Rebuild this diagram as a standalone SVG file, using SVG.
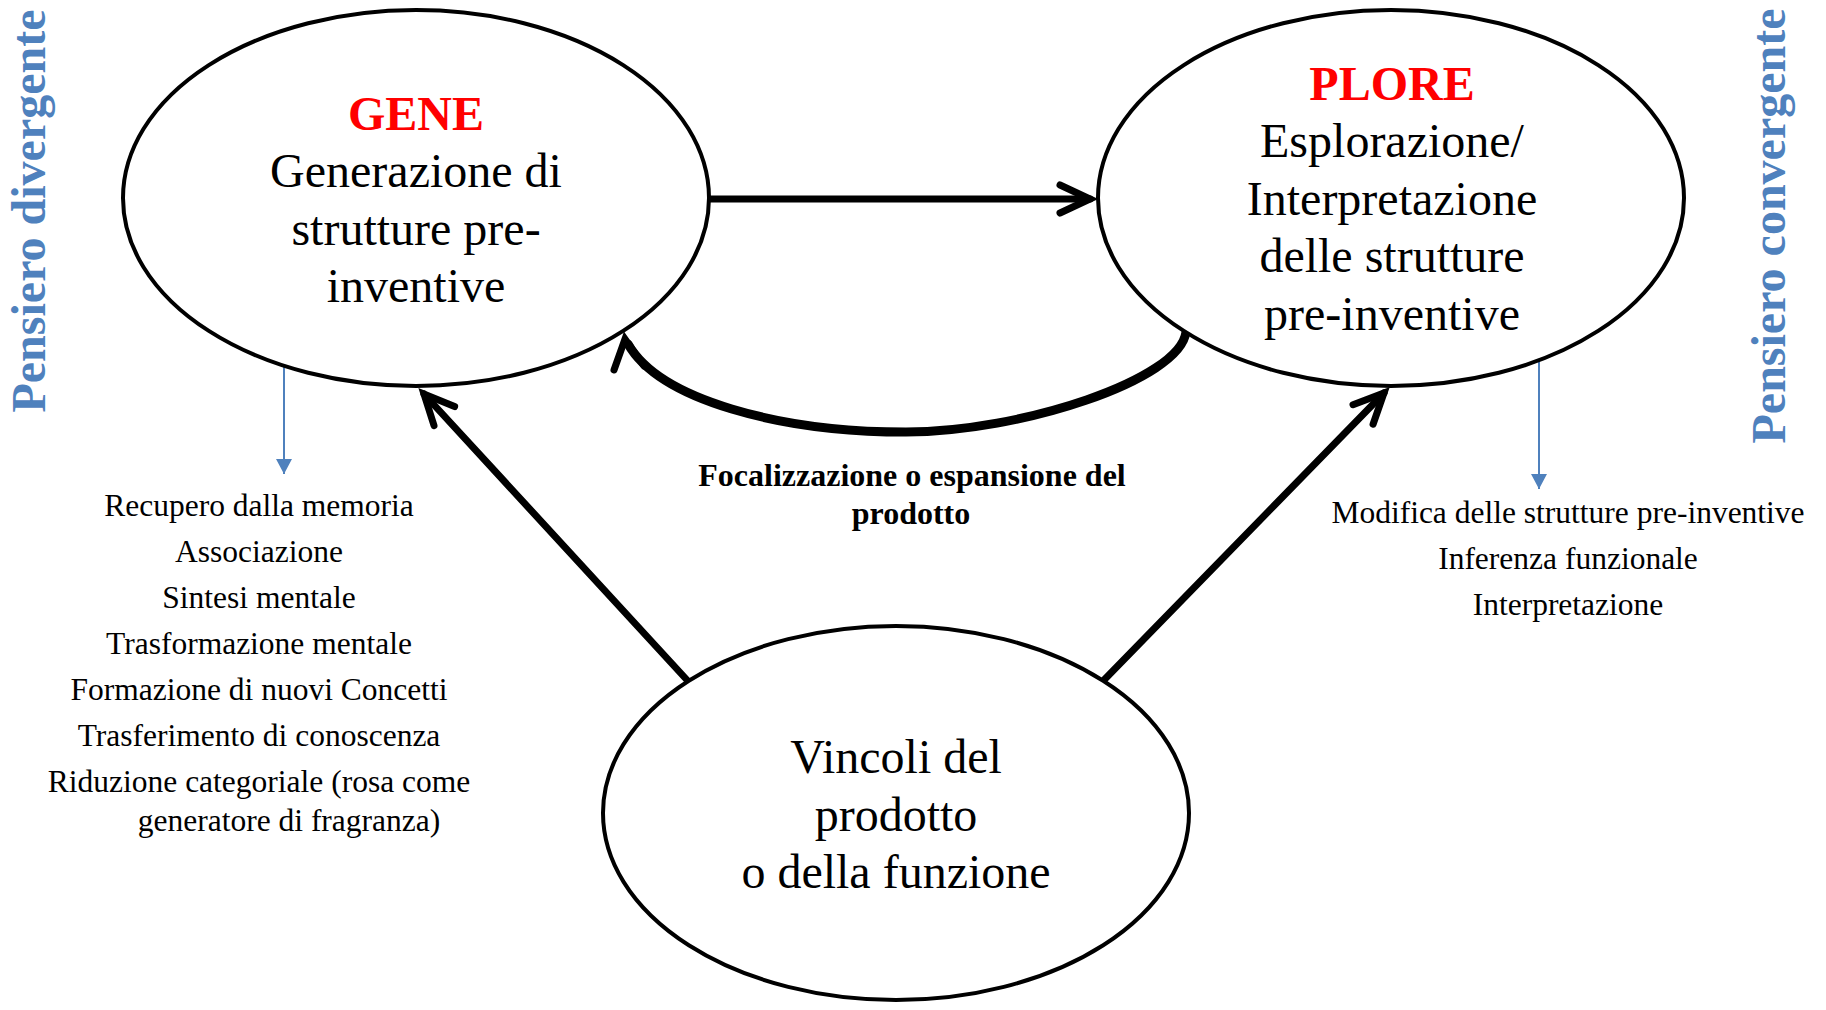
<svg xmlns="http://www.w3.org/2000/svg" width="1826" height="1010" viewBox="0 0 1826 1010">
<style>
.node ellipse{fill:#fff;stroke:#000;stroke-width:4}
.t{font-family:"Liberation Serif","Times New Roman",serif;fill:#000;text-anchor:middle}
.big{font-size:48px}
.title{font-size:48px;font-weight:bold;fill:#FF0000}
.side{font-family:"Liberation Serif","Times New Roman",serif;font-size:48px;font-weight:bold;fill:#4F81BD;text-anchor:middle}
.list{font-family:"Liberation Serif","Times New Roman",serif;font-size:31.5px;fill:#000;text-anchor:middle}
.lbl{font-family:"Liberation Serif","Times New Roman",serif;font-size:32px;font-weight:bold;fill:#000;text-anchor:middle}
.conn{fill:none;stroke:#000;stroke-linecap:round}
.blue{fill:none;stroke:#4F81BD;stroke-width:2}
.head{fill:none;stroke:#000;stroke-width:7;stroke-linecap:round;stroke-linejoin:miter}
</style>
<defs>
<marker id="chev" markerUnits="userSpaceOnUse" markerWidth="60" markerHeight="60" refX="0" refY="0" viewBox="-40 -30 60 60" orient="auto" overflow="visible">
<path d="M-30,-14 L0,0 L-30,14" fill="none" stroke="#000" stroke-width="7" stroke-linecap="round" stroke-linejoin="miter"/>
</marker>
<marker id="bhead" markerUnits="userSpaceOnUse" markerWidth="20" markerHeight="20" refX="0" refY="0" viewBox="-16 -10 20 20" orient="auto" overflow="visible">
<path d="M-15,-8 L0,0 L-15,8 Z" fill="#4F81BD"/>
</marker>
</defs>

<g id="side-labels">
<text class="side" transform="translate(45,211) rotate(-90)">Pensiero divergente</text>
<text class="side" transform="translate(1785,226) rotate(-90)">Pensiero convergente</text>
</g>

<g id="connectors">
<path class="conn" stroke-width="7" d="M709,199 L1090,199" marker-end="url(#chev)"/>
<path class="conn" stroke-width="9" d="M1186,332 C1180,380 1020,432 906,432 C780,432 660,400 628,344"/>
<path class="head" d="M614,370 L625,339 L644,366"/>
<path class="conn" stroke-width="7" d="M687,680 L424,394" marker-end="url(#chev)"/>
<path class="conn" stroke-width="7" d="M1104,680 L1384,393" marker-end="url(#chev)"/>
<path class="blue" d="M284,355 L284,474" marker-end="url(#bhead)"/>
<path class="blue" d="M1539,355 L1539,489" marker-end="url(#bhead)"/>
</g>

<g id="node-gene" class="node">
<ellipse cx="416" cy="198" rx="293" ry="188"/>
<text class="t title" x="416" y="130">GENE</text>
<text class="t big" x="416" y="187">Generazione di</text>
<text class="t big" x="416" y="245">strutture pre-</text>
<text class="t big" x="416" y="302">inventive</text>
</g>

<g id="node-plore" class="node">
<ellipse cx="1391" cy="198" rx="293" ry="188"/>
<text class="t title" x="1392" y="100">PLORE</text>
<text class="t big" x="1392" y="157">Esplorazione/</text>
<text class="t big" x="1392" y="215">Interpretazione</text>
<text class="t big" x="1392" y="272">delle strutture</text>
<text class="t big" x="1392" y="330">pre-inventive</text>
</g>

<g id="node-vincoli" class="node">
<ellipse cx="896" cy="813" rx="293" ry="187"/>
<text class="t big" x="896" y="773">Vincoli del</text>
<text class="t big" x="896" y="831">prodotto</text>
<text class="t big" x="896" y="888">o della funzione</text>
</g>

<g id="label-focus">
<text class="lbl" x="912" y="486">Focalizzazione o espansione del</text>
<text class="lbl" x="911" y="524">prodotto</text>
</g>

<g id="list-gene">
<text class="list" x="259" y="516">Recupero dalla memoria</text>
<text class="list" x="259" y="562">Associazione</text>
<text class="list" x="259" y="608">Sintesi mentale</text>
<text class="list" x="259" y="654">Trasformazione mentale</text>
<text class="list" x="259" y="700">Formazione di nuovi Concetti</text>
<text class="list" x="259" y="746">Trasferimento di conoscenza</text>
<text class="list" x="259" y="792">Riduzione categoriale (rosa come</text>
<text class="list" x="289" y="831">generatore di fragranza)</text>
</g>

<g id="list-plore">
<text class="list" x="1568" y="523">Modifica delle strutture pre-inventive</text>
<text class="list" x="1568" y="569">Inferenza funzionale</text>
<text class="list" x="1568" y="615">Interpretazione</text>
</g>
</svg>
